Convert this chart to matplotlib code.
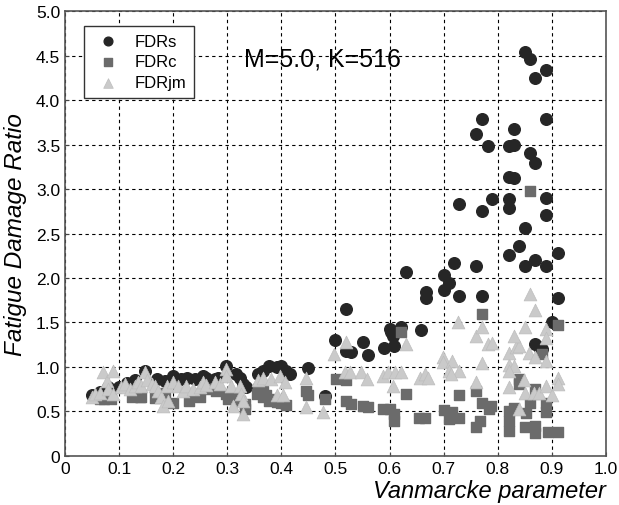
import matplotlib
matplotlib.use("Agg")
import matplotlib.pyplot as plt

plt.rcParams["font.family"] = ["Liberation Sans", "DejaVu Sans"]

# FDRs (circles)
fdrs_x = [0.050, 0.065, 0.080, 0.100, 0.115, 0.130, 0.147, 0.170, 0.185, 0.200,
          0.215, 0.225, 0.240, 0.255, 0.261, 0.277, 0.283, 0.298, 0.317, 0.323,
          0.329, 0.335, 0.357, 0.366, 0.378, 0.391, 0.400, 0.409, 0.415, 0.449,
          0.481, 0.500, 0.520, 0.520, 0.529, 0.550, 0.560, 0.590, 0.600, 0.603,
          0.606, 0.609, 0.621, 0.630, 0.658, 0.667, 0.667, 0.700, 0.700, 0.709,
          0.719, 0.728, 0.728, 0.760, 0.770, 0.760, 0.770, 0.781, 0.770, 0.789,
          0.820, 0.820, 0.820, 0.820, 0.830, 0.820, 0.830, 0.830, 0.839, 0.851,
          0.851, 0.851, 0.860, 0.860, 0.869, 0.869, 0.869, 0.890, 0.890, 0.890,
          0.890, 0.890, 0.911, 0.911, 0.900, 0.869, 0.876, 0.881]
fdrs_y = [0.68, 0.72, 0.78, 0.78, 0.82, 0.85, 0.95, 0.86, 0.84, 0.90,
          0.86, 0.88, 0.86, 0.90, 0.88, 0.86, 0.88, 1.01, 0.92, 0.88,
          0.81, 0.77, 0.92, 0.96, 1.01, 1.00, 1.01, 0.96, 0.92, 0.99,
          0.67, 1.30, 1.65, 1.18, 1.17, 1.28, 1.14, 1.21, 1.43, 1.39,
          1.35, 1.24, 1.45, 2.07, 1.41, 1.84, 1.77, 2.03, 1.87, 1.94,
          2.17, 1.80, 2.83, 2.14, 1.80, 3.62, 3.79, 3.48, 2.75, 2.89,
          2.26, 2.89, 2.79, 3.14, 3.12, 3.48, 3.50, 3.68, 2.36, 2.56,
          2.14, 4.54, 4.46, 3.41, 3.29, 4.25, 2.20, 4.34, 3.79, 2.90,
          2.71, 2.14, 2.28, 1.77, 1.51, 1.26, 1.23, 1.20]

# FDRc (squares)
fdrc_x = [0.064, 0.073, 0.085, 0.123, 0.138, 0.141, 0.166, 0.184, 0.200, 0.230,
          0.249, 0.261, 0.280, 0.298, 0.301, 0.317, 0.323, 0.332, 0.332, 0.354,
          0.357, 0.366, 0.366, 0.372, 0.378, 0.381, 0.391, 0.400, 0.409, 0.446,
          0.449, 0.481, 0.501, 0.520, 0.520, 0.529, 0.550, 0.560, 0.587, 0.600,
          0.609, 0.609, 0.621, 0.630, 0.655, 0.666, 0.700, 0.716, 0.709, 0.728,
          0.728, 0.759, 0.770, 0.770, 0.784, 0.787, 0.768, 0.760, 0.820, 0.820,
          0.820, 0.830, 0.839, 0.839, 0.852, 0.851, 0.860, 0.860, 0.869, 0.869,
          0.869, 0.882, 0.889, 0.889, 0.892, 0.911, 0.911]
fdrc_y = [0.64, 0.64, 0.64, 0.66, 0.66, 0.66, 0.65, 0.71, 0.60, 0.62,
          0.66, 0.75, 0.73, 0.70, 0.64, 0.68, 0.62, 0.58, 0.53, 0.70,
          0.75, 0.73, 0.66, 0.68, 0.62, 0.64, 0.61, 0.60, 0.57, 0.73,
          0.68, 0.64, 0.86, 0.85, 0.62, 0.58, 0.56, 0.55, 0.53, 0.53,
          0.47, 0.39, 1.39, 0.70, 0.43, 0.43, 0.52, 0.49, 0.41, 0.43,
          0.69, 0.73, 1.60, 0.59, 0.53, 0.56, 0.39, 0.33, 0.51, 0.39,
          0.28, 0.54, 0.87, 0.81, 0.48, 0.32, 2.98, 0.60, 0.75, 0.34,
          0.26, 1.15, 0.60, 0.49, 0.27, 0.27, 1.47]

# FDRjm (triangles)
fdrjm_x = [0.049, 0.055, 0.064, 0.071, 0.077, 0.080, 0.089, 0.089, 0.104, 0.111,
           0.120, 0.129, 0.135, 0.141, 0.147, 0.151, 0.160, 0.166, 0.172, 0.178,
           0.181, 0.190, 0.188, 0.200, 0.209, 0.218, 0.224, 0.237, 0.249, 0.255,
           0.261, 0.277, 0.286, 0.298, 0.298, 0.307, 0.310, 0.323, 0.326, 0.329,
           0.329, 0.357, 0.366, 0.381, 0.397, 0.406, 0.391, 0.403, 0.446, 0.446,
           0.477, 0.498, 0.520, 0.518, 0.527, 0.547, 0.558, 0.587, 0.597, 0.610,
           0.607, 0.621, 0.630, 0.657, 0.666, 0.671, 0.699, 0.698, 0.716, 0.709,
           0.728, 0.726, 0.713, 0.759, 0.770, 0.781, 0.789, 0.770, 0.759, 0.820,
           0.821, 0.830, 0.820, 0.821, 0.833, 0.839, 0.830, 0.851, 0.858, 0.869,
           0.889, 0.890, 0.890, 0.859, 0.869, 0.849, 0.851, 0.867, 0.876, 0.889,
           0.900, 0.911, 0.911, 0.839]
fdrjm_y = [0.66, 0.70, 0.71, 0.94, 0.84, 0.75, 0.96, 0.70, 0.77, 0.81,
           0.75, 0.79, 0.83, 0.79, 0.94, 0.85, 0.81, 0.79, 0.73, 0.66,
           0.56, 0.62, 0.79, 0.83, 0.79, 0.73, 0.79, 0.75, 0.77, 0.83,
           0.80, 0.83, 0.81, 0.98, 0.90, 0.79, 0.56, 0.79, 0.70, 0.62,
           0.47, 0.85, 0.88, 0.86, 0.90, 0.83, 0.68, 0.68, 0.88, 0.55,
           0.49, 1.15, 1.28, 0.94, 0.94, 0.94, 0.86, 0.90, 0.94, 0.94,
           0.79, 0.94, 1.26, 0.88, 0.92, 0.88, 1.11, 1.06, 1.07, 0.95,
           0.95, 1.50, 0.92, 1.35, 1.45, 1.26, 1.27, 1.05, 0.83, 0.77,
           1.02, 1.01, 0.95, 1.16, 1.23, 1.24, 1.35, 1.45, 1.16, 1.11,
           1.07, 1.43, 1.33, 1.82, 1.64, 0.85, 0.71, 0.71, 0.71, 0.79,
           0.68, 0.88, 0.81, 0.53]

x_ticks = [0, 0.1, 0.2, 0.3, 0.4, 0.5, 0.6, 0.7, 0.8, 0.9, 1.0]
x_labels = ["0", "0.1", "0.2", "0.3", "0.4", "0.5", "0.6", "0.7", "0.8", "0.9", "1.0"]
y_ticks = [0, 0.5, 1.0, 1.5, 2.0, 2.5, 3.0, 3.5, 4.0, 4.5, 5.0]
y_labels = ["0", "0.5", "1.0", "1.5", "2.0", "2.5", "3.0", "3.5", "4.0", "4.5", "5.0"]

fig = plt.figure(figsize=(6.19, 5.06), dpi=100)
ax = fig.add_axes([0.105, 0.097, 0.874, 0.879])

ax.scatter(fdrs_x, fdrs_y, s=70, marker="o", color="#262626", label="FDRs", zorder=3)
ax.scatter(fdrc_x, fdrc_y, s=46, marker="s", color="#6b6b6b", label="FDRc", zorder=4)
ax.scatter(fdrjm_x, fdrjm_y, s=85, marker="^", color="#cacaca",
           edgecolors="#bdbdbd", linewidths=0.5, label="FDRjm", zorder=5)

ax.set_xlim(0, 1.0)
ax.set_ylim(0, 5.0)
ax.set_xticks(x_ticks)
ax.set_xticklabels(x_labels)
ax.set_yticks(y_ticks)
ax.set_yticklabels(y_labels)
ax.tick_params(direction="in", length=3, labelsize=12.5, color="#444444")
ax.grid(True, color="black", linestyle=(0, (3, 3)), linewidth=0.8)
ax.set_axisbelow(True)
for sp in ax.spines.values():
    sp.set_color("#555555")
    sp.set_linewidth(1.2)

ax.set_xlabel("Vanmarcke parameter", fontsize=17, style="italic", loc="right", labelpad=2)
ax.set_ylabel("Fatigue Damage Ratio", fontsize=17.5, style="italic", labelpad=6)

ax.text(0.475, 4.47, "M=5.0, K=516", fontsize=18, ha="center", va="center")

leg = ax.legend(loc="upper left", bbox_to_anchor=(0.02, 0.985), fontsize=12,
                fancybox=False, edgecolor="#333333", framealpha=1,
                markerscale=0.75, handletextpad=0.6, borderpad=0.45, labelspacing=0.35)
leg.get_frame().set_linewidth(1.0)

fig.savefig("out.png", dpi=100)
